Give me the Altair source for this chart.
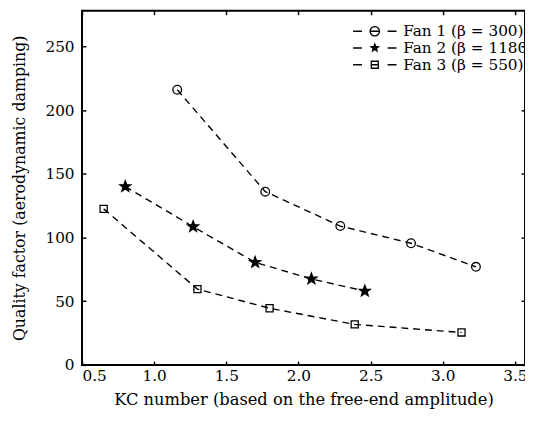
import math
import altair as alt
import pandas as pd

# ---- data ----
series = ["Fan 1 (β = 300)", "Fan 2 (β = 1180)", "Fan 3 (β = 550)"]
fan1_kc = [1.16, 1.77, 2.29, 2.78, 3.23]
fan1_q = [216, 136, 109, 95.5, 77]
fan2_kc = [0.80, 1.27, 1.70, 2.09, 2.46]
fan2_q = [140, 108.5, 80.5, 67.5, 58]
fan3_kc = [0.65, 1.30, 1.80, 2.39, 3.13]
fan3_q = [122.5, 59.5, 44.5, 31.8, 25.5]
x_ticks = [0.5, 1.0, 1.5, 2.0, 2.5, 3.0, 3.5]
y_ticks = [0, 50, 100, 150, 200, 250]

rows = []
for name, xs, ys in zip(series, [fan1_kc, fan2_kc, fan3_kc], [fan1_q, fan2_q, fan3_q]):
    for a, b in zip(xs, ys):
        rows.append({"series": name, "kc": a, "q": b})
df = pd.DataFrame(rows)

FONT = "DejaVu Serif"


def circle(r, cw=True):
    s = 1 if cw else 0
    return f"M{r},0A{r},{r} 0 1,{s} {-r},0A{r},{r} 0 1,{s} {r},0Z"


def star(ro, ri):
    pts = []
    for i in range(10):
        ang = -math.pi / 2 + i * math.pi / 5
        rr = ro if i % 2 == 0 else ri
        pts.append(f"{rr*math.cos(ang):.3f},{rr*math.sin(ang):.3f}")
    return "M" + "L".join(pts) + "Z"


def square(h):
    return f"M{-h},{-h}H{h}V{h}H{-h}Z"


def hbar(x0, x1, t=0.35):
    return f"M{x0},{-t}H{x1}V{t}H{x0}Z"


dashes = hbar(-11, -6.5) + hbar(6.5, 11)
legend_paths = [
    dashes + hbar(-2.3, 2.3) + circle(2.7) + circle(2.05, cw=False),
    dashes + star(2.9, 1.2),
    dashes + hbar(-2.1, 2.1) + square(2.1) + "M-1.45,-1.45V1.45H1.45V-1.45Z",
]
point_paths = [circle(1.1), star(1.45, 0.6), square(0.9)]
fills = ["transparent", "black", "transparent"]

xscale = alt.Scale(domain=[0.5, 3.57], nice=False, zero=False)
yscale = alt.Scale(domain=[0, 278], nice=False)

x_main = alt.Axis(values=x_ticks, format=".1f", ticks=False, domain=False, grid=False,
                  labelPadding=4, labelFontSize=15.5, labelFont=FONT, labelColor="black",
                  title="KC number (based on the free-end amplitude)", titleFont=FONT,
                  titleFontSize=16.5, titleFontWeight="normal", titleColor="black",
                  titlePadding=8, orient="bottom")
y_main = alt.Axis(values=y_ticks, ticks=False, domain=False, grid=False,
                  labelPadding=8, labelFontSize=15.5, labelFont=FONT, labelColor="black",
                  title="Quality factor (aerodynamic damping)", titleFont=FONT,
                  titleFontSize=16, titleFontWeight="normal", titleColor="black",
                  titlePadding=18, orient="left")


def tick_axis(vals, orient):
    return alt.Axis(values=vals, labels=False, domain=False, grid=False, ticks=True,
                    tickSize=4, offset=-4, tickColor="black", tickWidth=1.5,
                    title=None, orient=orient)


lines = alt.Chart(df).mark_line(color="black", strokeWidth=1.4, strokeDash=[7, 5]).encode(
    x=alt.X("kc:Q", scale=xscale, axis=x_main),
    y=alt.Y("q:Q", scale=yscale, axis=y_main),
    detail="series:N",
)

points = alt.Chart(df).mark_point(stroke="black", strokeWidth=1.3, size=64, opacity=1).encode(
    x=alt.X("kc:Q", scale=xscale, axis=tick_axis(x_ticks, "bottom")),
    y=alt.Y("q:Q", scale=yscale, axis=tick_axis(y_ticks, "left")),
    shape=alt.Shape("series:N", scale=alt.Scale(domain=series, range=point_paths), legend=None),
    fill=alt.Fill("series:N", scale=alt.Scale(domain=series, range=fills), legend=None),
)

leg = alt.Legend(title=None, orient="none", legendX=289, legendY=13, padding=0,
                 symbolSize=16, symbolFillColor="black", symbolStrokeColor="transparent",
                 symbolStrokeWidth=0, symbolOpacity=1, labelOffset=21, labelFont=FONT,
                 labelFontSize=15.5, labelColor="black", rowPadding=0, labelLimit=300)

legend_layer = alt.Chart(df).mark_point(filled=True, color="black", opacity=0).encode(
    x=alt.X("kc:Q", scale=xscale, axis=tick_axis(x_ticks, "top")),
    y=alt.Y("q:Q", scale=yscale, axis=tick_axis(y_ticks, "right")),
    shape=alt.Shape("series:N", scale=alt.Scale(domain=series, range=legend_paths), legend=leg),
)

chart = alt.layer(lines, points, legend_layer).resolve_scale(
    shape="independent", fill="independent"
).resolve_axis(
    x="independent", y="independent"
).properties(
    width=449, height=359,
    autosize=alt.AutoSizeParams(type="none"),
    padding={"left": 75, "top": 0, "right": 0, "bottom": 50},
).configure_view(stroke="black", strokeWidth=2)

chart.save("out.html", embed_options={"renderer": "svg", "actions": False})
